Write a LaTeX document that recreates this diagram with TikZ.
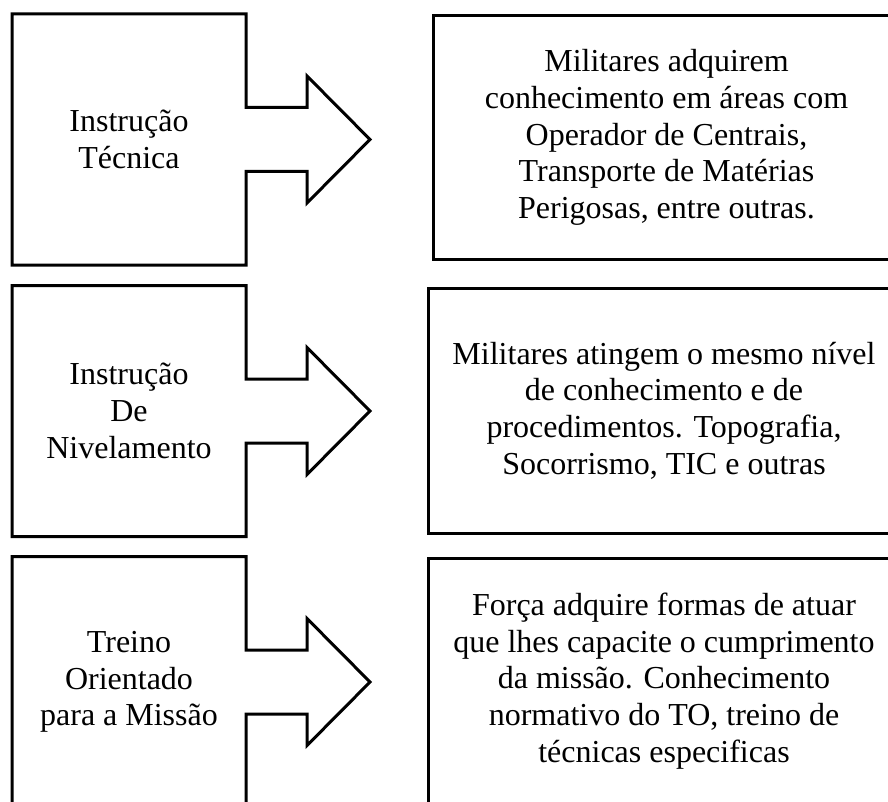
\documentclass[tikz,border=0pt]{standalone}
\usepackage{fontspec}
\setmainfont{Liberation Serif}
\usepackage{tikz}

\tikzset{
  contorno/.style={draw=black, line width=3pt, line join=miter},
  rotulo/.style={align=center, font=\fontsize{32}{36.7}\selectfont, inner sep=0pt},
  caixa/.style={contorno, rotulo, minimum width=467pt, minimum height=243pt},
  setacaixa/.pic={
    \draw[contorno] (-117,-125.5) -- (117,-125.5) -- (117,-32) -- (178,-32)
      -- (178,-63.5) -- (241,0) -- (178,63.5) -- (178,32) -- (117,32)
      -- (117,125.5) -- (-117,125.5) -- cycle;
  }
}

\begin{document}
\begin{tikzpicture}[x=1pt, y=-1pt]
  \clip (0,0) rectangle (888,802);
  \fill[white] (0,0) rectangle (888,802);

  % linha 1
  \node[rotulo] (tecnica) at (129,139.5) {Instrução\\Técnica};
  \pic at (tecnica) {setacaixa};
  \node[caixa] (areas) at (666.5,137.5) {Militares adquirem\\conhecimento em áreas com\\Operador de Centrais,\\Transporte de Matérias\\Perigosas, entre outras.};

  % linha 2
  \node[rotulo] (nivel) at (129,411) {Instrução\\De\\Nivelamento};
  \pic at (nivel) {setacaixa};
  \node[caixa, minimum width=472pt, minimum height=245pt] (mesmo) at (664,410.5) {Militares atingem o mesmo nível\\de conhecimento e de\\procedimentos. Topografia,\\Socorrismo, TIC e outras};

  % linha 3
  \node[rotulo] (missao) at (129,682) {Treino\\Orientado\\para a Missão};
  \pic at (missao) {setacaixa};
  \node[caixa, minimum width=472pt, minimum height=245pt] (forca) at (664,681) {Força adquire formas de atuar\\que lhes capacite o cumprimento\\da missão. Conhecimento\\normativo do TO, treino de\\técnicas especificas};
\end{tikzpicture}
\end{document}
